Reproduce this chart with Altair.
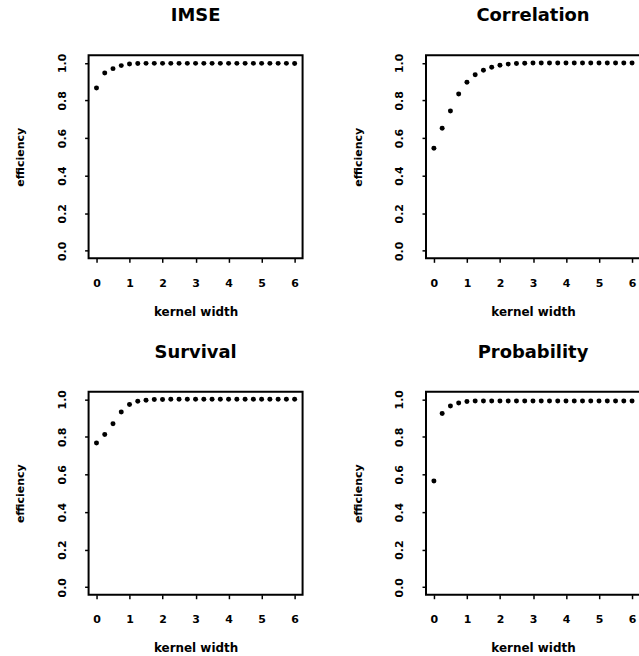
import altair as alt
import pandas as pd

kernel_width = [0.0, 0.25, 0.5, 0.75, 1.0, 1.25, 1.5, 1.75, 2.0, 2.25, 2.5, 2.75, 3.0,
                3.25, 3.5, 3.75, 4.0, 4.25, 4.5, 4.75, 5.0, 5.25, 5.5, 5.75, 6.0]

imse = [0.866, 0.946, 0.969, 0.985, 0.994, 0.996, 0.997, 0.997, 0.997, 0.997, 0.997, 0.997, 0.997,
        0.997, 0.997, 0.997, 0.997, 0.997, 0.997, 0.997, 0.997, 0.997, 0.997, 0.997, 0.996]
correlation = [0.545, 0.652, 0.744, 0.834, 0.896, 0.937, 0.960, 0.976, 0.987, 0.993, 0.996, 0.998, 0.999,
               0.999, 0.999, 0.999, 0.999, 0.999, 0.999, 0.999, 0.999, 0.999, 0.999, 0.999, 0.999]
survival = [0.767, 0.812, 0.870, 0.932, 0.972, 0.989, 0.995, 0.998, 0.999, 1.0, 1.0, 1.0, 1.0,
            1.0, 1.0, 1.0, 1.0, 1.0, 1.0, 1.0, 1.0, 1.0, 1.0, 1.0, 1.0]
probability = [0.565, 0.924, 0.964, 0.980, 0.988, 0.990, 0.991, 0.991, 0.991, 0.991, 0.991, 0.991, 0.991,
               0.991, 0.991, 0.991, 0.991, 0.991, 0.991, 0.991, 0.991, 0.991, 0.991, 0.991, 0.991]

titles = ["IMSE", "Correlation", "Survival", "Probability"]
series = [imse, correlation, survival, probability]
x_ticks = [0, 1, 2, 3, 4, 5, 6]
y_ticks = [0.0, 0.2, 0.4, 0.6, 0.8, 1.0]

FONT = "DejaVu Sans"


def panel(title, values):
    df = pd.DataFrame({"kernel width": kernel_width, "efficiency": values})
    return (
        alt.Chart(
            df,
            title=alt.TitleParams(
                title, font=FONT, fontSize=18, fontWeight="bold", color="black",
                offset=14, baseline="alphabetic", anchor="middle",
            ),
        )
        .mark_circle(size=25, color="black", opacity=1)
        .encode(
            x=alt.X(
                "kernel width:Q",
                scale=alt.Scale(domain=[-0.24, 6.24], nice=False, zero=False),
                axis=alt.Axis(
                    values=x_ticks, format="d", title="kernel width",
                    labelPadding=15, labelBaseline="top",
                    titleY=53, titleBaseline="middle", titleFontSize=12,
                ),
            ),
            y=alt.Y(
                "efficiency:Q",
                scale=alt.Scale(domain=[-0.04, 1.04], nice=False, zero=False),
                axis=alt.Axis(
                    values=y_ticks, format=".1f", title="efficiency",
                    labelAngle=270, labelAlign="center", labelBaseline="alphabetic",
                    labelPadding=19.5, titleX=-68, titleBaseline="middle",
                ),
            ),
        )
        .properties(width=215, height=204)
    )


panels = [panel(t, s) for t, s in zip(titles, series)]

chart = (
    alt.vconcat(
        alt.hconcat(panels[0], panels[1], spacing=48),
        alt.hconcat(panels[2], panels[3], spacing=48),
        spacing=24,
    )
    .properties(padding={"left": 14, "top": 4, "right": -2, "bottom": 0}, background="white")
    .configure_view(stroke="black", strokeWidth=2)
    .configure_axis(
        grid=False, domain=False, ticks=True, tickColor="black", tickWidth=1.5, tickSize=4,
        labelFont=FONT, labelFontSize=11, labelFontWeight="bold", labelColor="black",
        titleFont=FONT, titleFontSize=11, titleFontWeight="bold", titleColor="black",
        labelOverlap=False, labelFlush=False,
    )
)

chart.save("out.html", embed_options={"renderer": "svg", "actions": False})
